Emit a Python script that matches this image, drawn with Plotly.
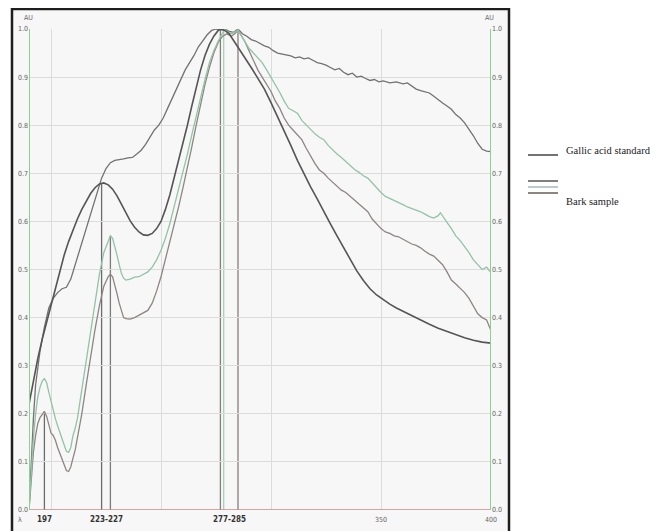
import plotly.graph_objects as go

# ---------------- data ----------------
wl_gallic = [190,192,194,196,198,200,202,204,206,208,210,212,214,216,218,220,222,224,226,228,230,232,234,236,238,240,242,244,246,248,250,252,254,256,258,260,262,264,266,268,270,272,274,276,277,279,281,283,285,287,289,291,293,295,297,300,303,306,309,312,315,318,321,324,327,330,333,336,339,342,345,348,351,354,357,360,364,368,372,376,380,384,388,392,396,400]
au_gallic = [0.22,0.27,0.315,0.355,0.39,0.425,0.46,0.495,0.53,0.558,0.583,0.605,0.625,0.643,0.658,0.67,0.678,0.68,0.676,0.667,0.653,0.636,0.618,0.601,0.588,0.578,0.572,0.571,0.575,0.585,0.6,0.625,0.655,0.69,0.73,0.765,0.8,0.84,0.88,0.915,0.945,0.968,0.985,0.997,1.0,0.997,0.99,0.977,0.962,0.948,0.935,0.92,0.905,0.89,0.875,0.847,0.818,0.788,0.758,0.727,0.698,0.672,0.647,0.62,0.595,0.57,0.545,0.52,0.497,0.477,0.46,0.447,0.437,0.428,0.42,0.413,0.404,0.395,0.386,0.378,0.371,0.364,0.358,0.353,0.349,0.347]

wl_top = [190,191,192,193,195,197,199,201,203,205,207,209,211,213,215,217,219,221,223,225,227,229,231,233,235,237,239,241,243,245,247,249,251,253,255,257,259,261,263,265,267,269,271,273,275,277,279,281,283,285,287,289,291,293,295,297,299,301,303,305,307,309,311,313,315,317,319,321,323,325,327,329,331,333,335,337,339,341,343,345,347,349,351,354,357,360,362,364,366,368,370,372,374,376,378,380,382,384,386,388,390,392,394,396,398,400]
au_top = [0.0,0.10,0.19,0.26,0.33,0.38,0.42,0.44,0.452,0.46,0.463,0.48,0.51,0.54,0.57,0.60,0.63,0.66,0.69,0.71,0.722,0.727,0.728,0.73,0.732,0.733,0.74,0.748,0.76,0.775,0.79,0.80,0.815,0.835,0.855,0.875,0.895,0.915,0.93,0.945,0.963,0.975,0.988,0.997,1.0,0.998,1.0,0.995,0.993,1.0,0.99,0.985,0.978,0.975,0.97,0.965,0.962,0.955,0.95,0.948,0.945,0.944,0.94,0.942,0.938,0.94,0.935,0.93,0.928,0.925,0.92,0.915,0.918,0.91,0.905,0.908,0.90,0.902,0.897,0.893,0.895,0.89,0.892,0.888,0.89,0.886,0.888,0.882,0.875,0.872,0.87,0.867,0.86,0.852,0.846,0.84,0.833,0.822,0.815,0.805,0.792,0.778,0.762,0.75,0.746,0.745]

wl_green = [190,191,192,193,194,195,196,197,198,199,200,201,202,203,204,205,206,207,208,209,210,211,212,213,214,216,218,220,222,224,226,227,228,229,230,231,232,233,234,236,238,240,242,244,246,248,250,252,254,256,258,260,262,264,266,268,270,272,274,276,278,279,280,282,284,285,286,288,290,292,294,296,298,300,302,304,306,308,310,312,314,316,318,320,322,324,326,328,330,332,334,336,338,340,342,344,346,348,350,352,354,356,358,360,362,364,366,368,370,372,374,376,377,378,380,382,384,386,388,390,392,394,396,398,400]
au_green = [0.0,0.08,0.15,0.2,0.235,0.255,0.268,0.273,0.265,0.245,0.225,0.205,0.19,0.175,0.16,0.148,0.135,0.122,0.12,0.13,0.155,0.17,0.19,0.22,0.25,0.31,0.37,0.43,0.49,0.535,0.56,0.57,0.565,0.55,0.53,0.51,0.492,0.482,0.478,0.48,0.484,0.485,0.49,0.495,0.505,0.52,0.54,0.565,0.595,0.63,0.665,0.7,0.74,0.78,0.82,0.86,0.895,0.93,0.955,0.975,0.99,1.0,0.995,0.99,0.995,0.998,0.99,0.975,0.96,0.95,0.94,0.93,0.915,0.9,0.885,0.868,0.85,0.835,0.83,0.825,0.81,0.8,0.792,0.782,0.775,0.77,0.758,0.748,0.74,0.733,0.725,0.715,0.708,0.702,0.695,0.69,0.68,0.668,0.66,0.652,0.648,0.643,0.64,0.635,0.63,0.627,0.624,0.62,0.615,0.61,0.607,0.612,0.618,0.612,0.598,0.585,0.57,0.56,0.548,0.535,0.52,0.51,0.5,0.505,0.493]

wl_gray = [190,191,192,193,194,195,196,197,198,199,200,201,202,203,204,205,206,207,208,209,210,211,212,214,216,218,220,222,224,226,227,228,229,230,231,232,233,234,236,238,240,242,244,246,248,250,252,254,256,258,260,262,264,266,268,270,272,274,276,278,280,282,284,285,286,288,290,292,294,296,298,300,302,304,306,308,310,312,314,316,318,320,322,324,326,328,330,332,334,336,338,340,342,344,346,348,350,352,354,356,358,360,362,364,366,368,370,372,374,376,378,380,382,384,386,388,390,392,394,396,398,400]
au_gray = [0.0,0.07,0.12,0.155,0.18,0.192,0.2,0.205,0.195,0.175,0.16,0.155,0.145,0.13,0.118,0.11,0.097,0.082,0.08,0.09,0.108,0.125,0.15,0.2,0.26,0.32,0.375,0.425,0.465,0.485,0.49,0.485,0.47,0.45,0.43,0.412,0.4,0.398,0.397,0.4,0.405,0.41,0.415,0.43,0.455,0.485,0.52,0.555,0.59,0.63,0.67,0.71,0.755,0.8,0.845,0.885,0.92,0.95,0.972,0.985,0.99,0.985,0.992,1.0,0.99,0.975,0.955,0.935,0.915,0.9,0.885,0.87,0.85,0.835,0.815,0.8,0.79,0.78,0.77,0.752,0.735,0.72,0.707,0.7,0.69,0.682,0.675,0.665,0.66,0.652,0.645,0.638,0.628,0.62,0.605,0.595,0.585,0.578,0.575,0.57,0.568,0.563,0.558,0.553,0.55,0.545,0.538,0.532,0.528,0.52,0.51,0.495,0.478,0.47,0.462,0.452,0.44,0.425,0.408,0.4,0.395,0.373]

marker_wl = [197, 223, 227, 277, 278.5, 285]
marker_top = [0.205, 0.68, 0.57, 1.0, 1.0, 1.0]
marker_colors = ["#6c6c6c", "#6c6c6c", "#7a7a7a", "#8a7c7c", "#9fd3b5", "#8a7c7c"]

y_ticks = [0.0, 0.1, 0.2, 0.3, 0.4, 0.5, 0.6, 0.7, 0.8, 0.9, 1.0]
y_ticktext = ["0.0", "0.1", "0.2", "0.3", "0.4", "0.5", "0.6", "0.7", "0.8", "0.9", "1.0"]
x_grid = [200, 250, 300, 350]
x_labels_bold = [(197, "197"), (225, "223-227"), (281, "277-285")]
x_labels_plain = [(350, "350"), (400, "400")]

legend_gallic = "Gallic acid standard"
legend_bark = "Bark sample"

# ---------------- figure ----------------
# the page body has an 8px margin, so the figure is shifted by OFF pixels
OFF = 8
W, H = 662 - OFF, 531 - OFF
PL, PR, PT, PB = 29, 491, 29, 510          # plot area in reference-window pixels
L, T = PL - OFF, PT - OFF
R, B = W - (PR - OFF), H - (PB - OFF)
PW, PH = PR - PL, PB - PT


def px(x):  # reference window pixel -> paper x
    return (x - PL) / PW


def py(y):  # reference window pixel -> paper y
    return (PB - y) / PH


fig = go.Figure()

fig.add_trace(go.Scatter(x=wl_top, y=au_top, mode="lines",
                         line=dict(color="#727272", width=1.3), showlegend=False))
fig.add_trace(go.Scatter(x=wl_gray, y=au_gray, mode="lines",
                         line=dict(color="#8e8682", width=1.3), showlegend=False))
fig.add_trace(go.Scatter(x=wl_green, y=au_green, mode="lines",
                         line=dict(color="#92c3a8", width=1.3), showlegend=False))
fig.add_trace(go.Scatter(x=wl_gallic, y=au_gallic, mode="lines",
                         line=dict(color="#555555", width=1.6), showlegend=False))
# invisible trace for right axis
fig.add_trace(go.Scatter(x=[190, 400], y=[0, 1], yaxis="y2", mode="lines",
                         line=dict(width=0), hoverinfo="skip", showlegend=False))

shapes = []
# frame background + border
shapes.append(dict(type="rect", xref="paper", yref="paper", x0=px(12), x1=px(509),
                   y0=py(535), y1=py(8), fillcolor="#f7f7f7", line=dict(width=0), layer="below"))
shapes.append(dict(type="rect", xref="paper", yref="paper", x0=px(12), x1=px(509),
                   y0=py(540), y1=py(9), fillcolor="rgba(0,0,0,0)", line=dict(color="#1e1e1e", width=2.5)))

# marker vertical lines
for wl, top, c in zip(marker_wl, marker_top, marker_colors):
    shapes.append(dict(type="line", xref="x", yref="y", x0=wl, x1=wl, y0=0, y1=top,
                       line=dict(color=c, width=1.3), layer="below"))

# axis lines
shapes.append(dict(type="line", xref="x", yref="y", x0=190, x1=400, y0=0, y1=0,
                   line=dict(color="#c98a86", width=1.6)))
shapes.append(dict(type="line", xref="x", yref="y", x0=190, x1=190, y0=0, y1=1,
                   line=dict(color="#8fd08f", width=2)))
shapes.append(dict(type="line", xref="x", yref="y", x0=400, x1=400, y0=0, y1=1,
                   line=dict(color="#8fd08f", width=2)))

# legend samples
shapes.append(dict(type="line", xref="paper", yref="paper", x0=px(528), x1=px(558),
                   y0=py(155), y1=py(155), line=dict(color="#444444", width=1.5)))
for yy, c in [(181, "#555555"), (187, "#a3b9c2"), (193, "#6a5d55")]:
    shapes.append(dict(type="line", xref="paper", yref="paper", x0=px(528), x1=px(558),
                       y0=py(yy), y1=py(yy), line=dict(color=c, width=1.5)))

annotations = []
tick_font = dict(family="Liberation Sans Narrow, DejaVu Sans Condensed, Arial Narrow, sans-serif", size=7, color="#666666")
bold_font = dict(family="Liberation Sans Narrow, DejaVu Sans Condensed, Arial Narrow, sans-serif", size=8, color="#333333")
for wl, t in x_labels_bold:
    annotations.append(dict(x=wl, y=py(520), xref="x", yref="paper", text="<b>" + t + "</b>",
                            showarrow=False, font=bold_font, xanchor="center", yanchor="middle"))
for wl, t in x_labels_plain:
    annotations.append(dict(x=wl, y=py(520), xref="x", yref="paper", text=t,
                            showarrow=False, font=tick_font, xanchor="center", yanchor="middle"))
annotations.append(dict(x=px(20), y=py(520), xref="paper", yref="paper", text="λ",
                        showarrow=False, font=tick_font, xanchor="center", yanchor="middle"))
annotations.append(dict(x=px(28), y=py(18), xref="paper", yref="paper", text="AU",
                        showarrow=False, font=tick_font, xanchor="center", yanchor="middle"))
annotations.append(dict(x=px(489), y=py(18), xref="paper", yref="paper", text="AU",
                        showarrow=False, font=tick_font, xanchor="center", yanchor="middle"))
legend_font = dict(family="Liberation Serif, Times New Roman, serif", size=10.5, color="#222222")
annotations.append(dict(x=px(564), y=py(150), xref="paper", yref="paper", text=legend_gallic,
                        showarrow=False, font=legend_font, xanchor="left", yanchor="middle"))
annotations.append(dict(x=px(564), y=py(202), xref="paper", yref="paper", text=legend_bark,
                        showarrow=False, font=legend_font, xanchor="left", yanchor="middle"))

fig.update_layout(
    width=W, height=H,
    margin=dict(l=L, r=R, t=T, b=B, pad=0, autoexpand=False),
    paper_bgcolor="white",
    plot_bgcolor="#f7f7f7",
    showlegend=False,
    shapes=shapes,
    annotations=annotations,
    xaxis=dict(range=[190, 400], tickvals=x_grid, showticklabels=False, ticks="",
               showgrid=True, gridcolor="#dcdcdc", gridwidth=1, zeroline=False, showline=False,
               fixedrange=True),
    yaxis=dict(range=[0, 1], tickvals=y_ticks, ticktext=y_ticktext, tickfont=tick_font,
               showgrid=True, gridcolor="#dcdcdc", gridwidth=1, zeroline=False, showline=False,
               ticks="", fixedrange=True),
    yaxis2=dict(range=[0, 1], overlaying="y", side="right", tickvals=y_ticks, ticktext=y_ticktext,
                tickfont=tick_font, showgrid=False, zeroline=False, showline=False, ticks="",
                fixedrange=True),
)

fig.write_html("out.html")
